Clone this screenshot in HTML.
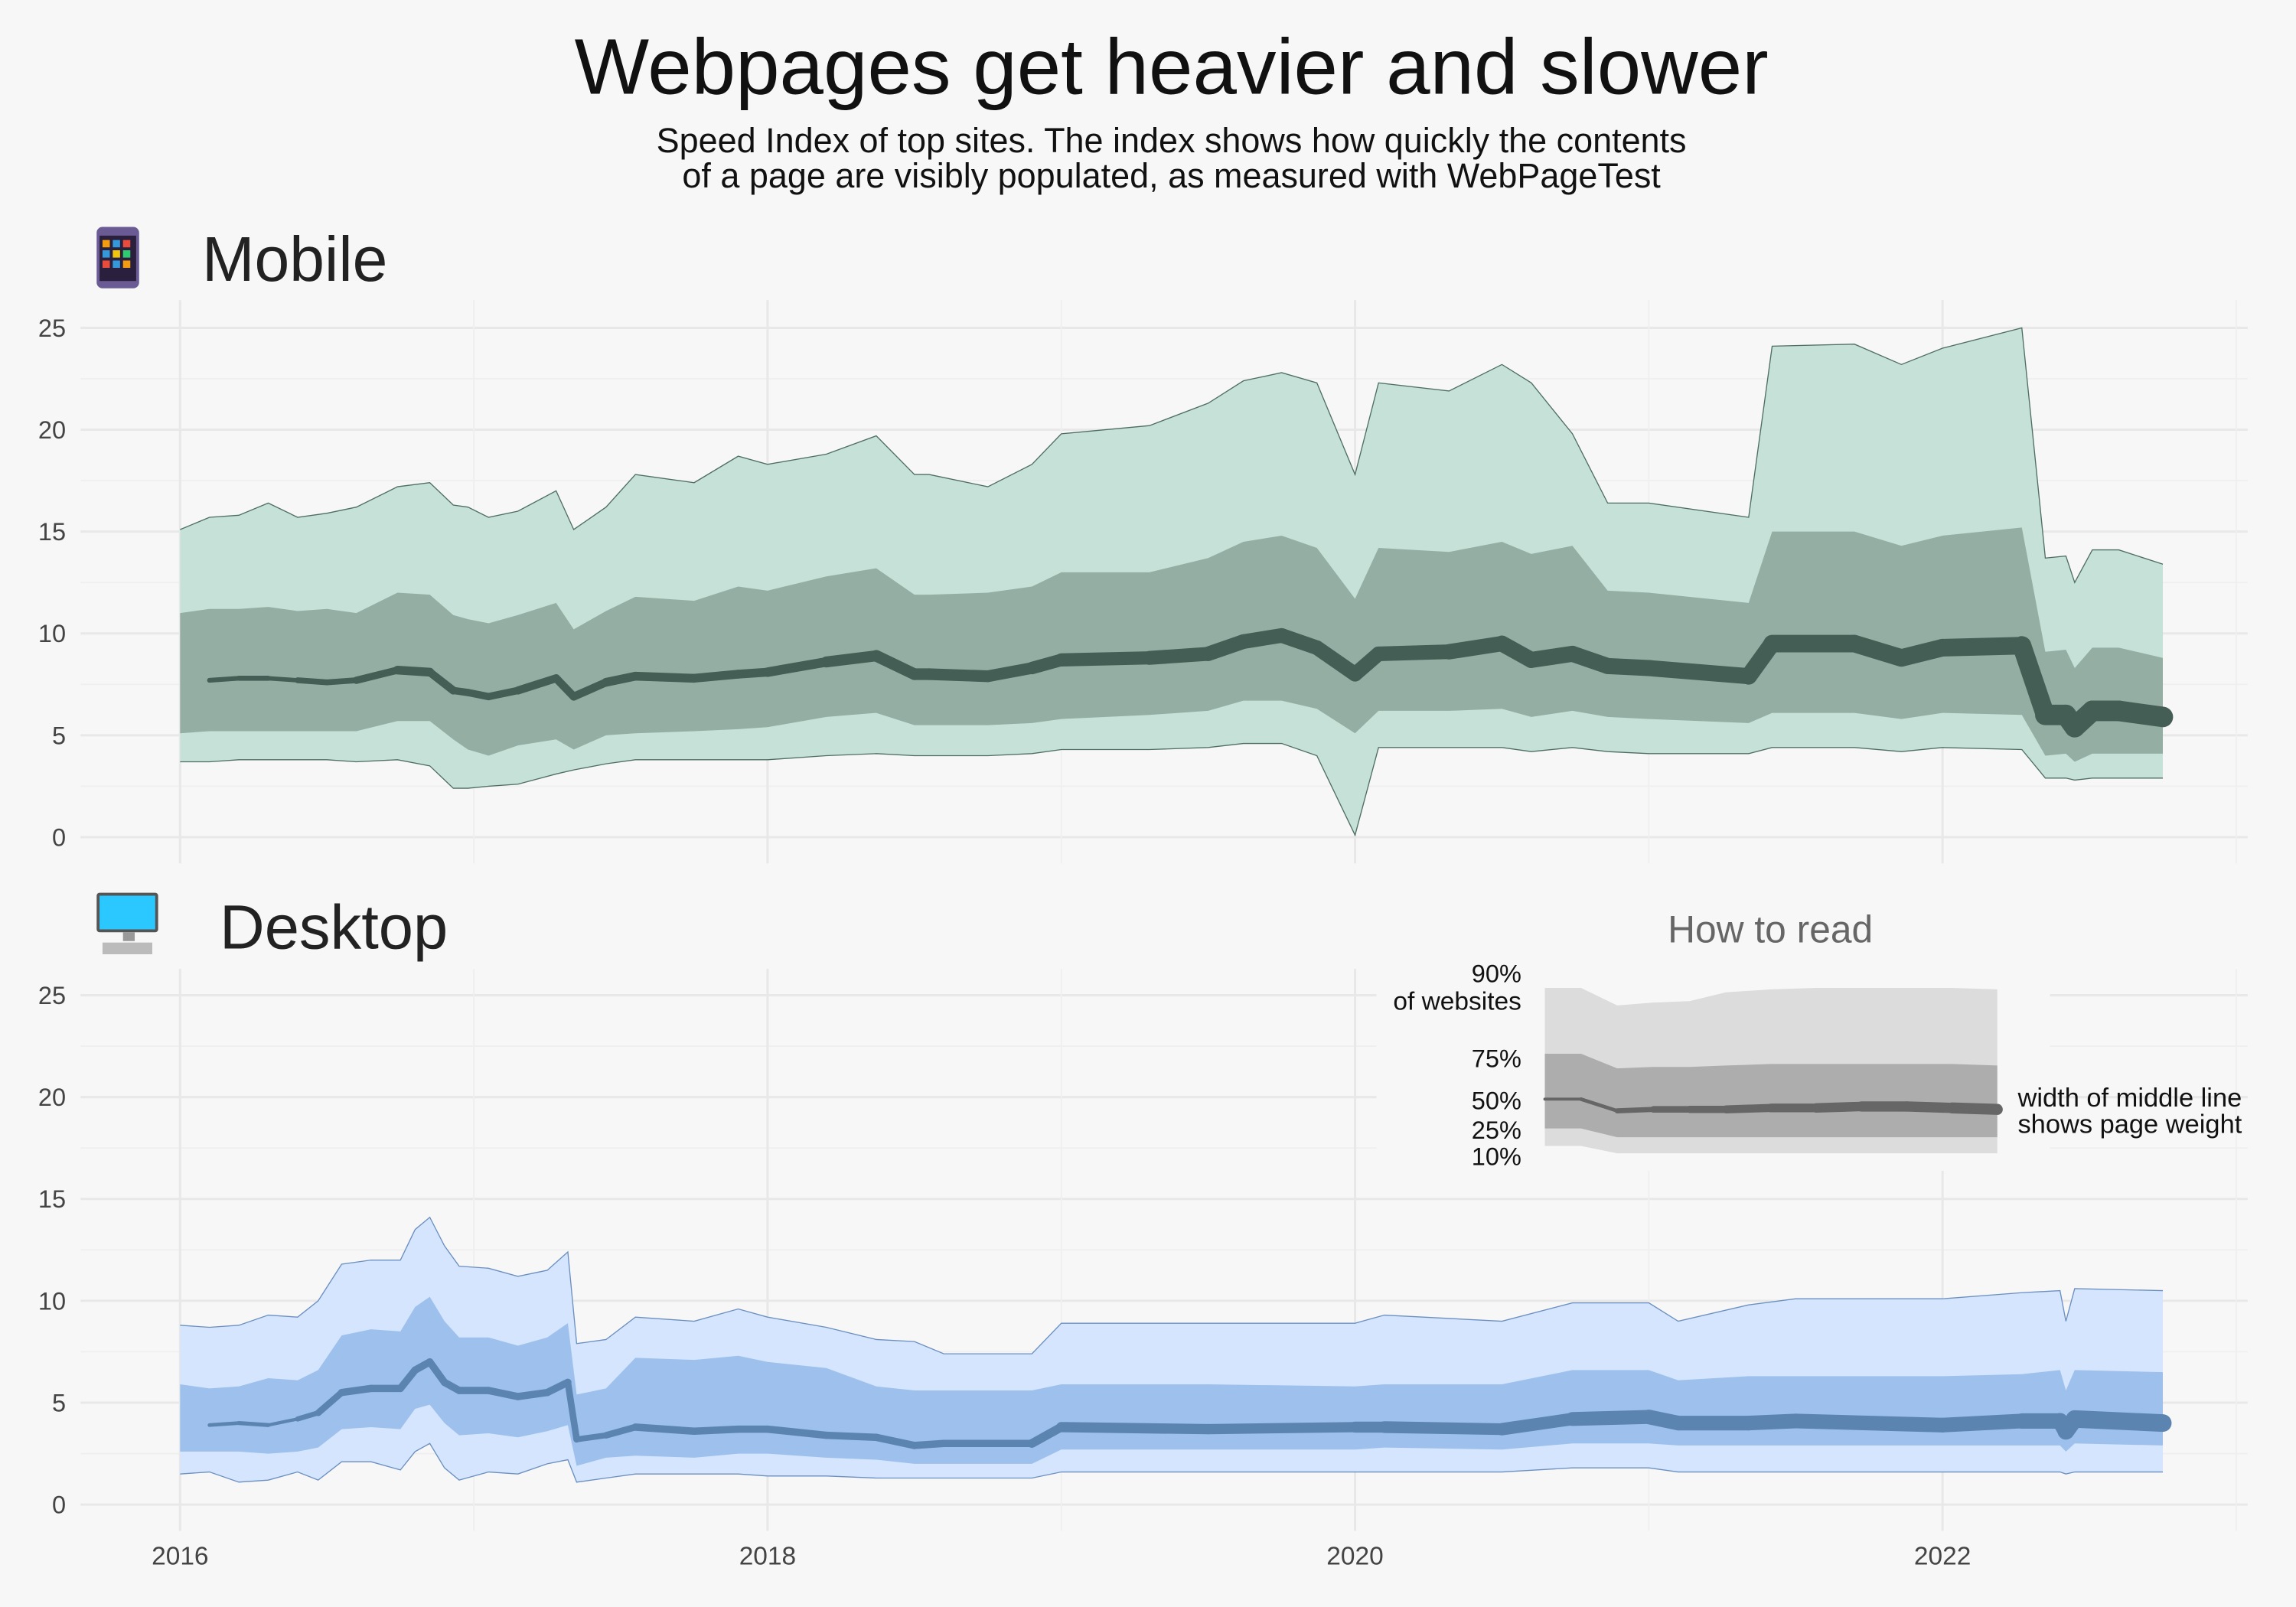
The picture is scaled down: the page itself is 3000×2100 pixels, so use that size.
<!DOCTYPE html>
<html><head><meta charset="utf-8"><style>
html,body{margin:0;padding:0;background:#f7f7f7;}
svg{display:block;font-family:"Liberation Sans",sans-serif;}
</style></head><body>
<svg id="chart" width="3000" height="2100" viewBox="0 0 1568 1098" preserveAspectRatio="none" xmlns="http://www.w3.org/2000/svg">
<rect x="0" y="0" width="1568" height="1098" fill="#f7f7f7"/>
<text x="800" y="64" text-anchor="middle" font-size="54" fill="#111">Webpages get heavier and slower</text>
<text x="800" y="104" text-anchor="middle" font-size="23.5" fill="#111">Speed Index of top sites. The index shows how quickly the contents</text>
<text x="800" y="128" text-anchor="middle" font-size="23.5" fill="#111">of a page are visibly populated, as measured with WebPageTest</text>
<g>
<rect x="66" y="155" width="29" height="42" rx="4" fill="#6b5b95"/>
<rect x="68" y="161" width="25" height="31" fill="#2a1f3d"/>
<rect x="70" y="164" width="5" height="5" fill="#f39c12"/><rect x="77" y="164" width="5" height="5" fill="#3498db"/><rect x="84" y="164" width="5" height="5" fill="#e74c3c"/>
<rect x="70" y="171" width="5" height="5" fill="#3498db"/><rect x="77" y="171" width="5" height="5" fill="#f1c40f"/><rect x="84" y="171" width="5" height="5" fill="#2ecc71"/>
<rect x="70" y="178" width="5" height="5" fill="#e74c3c"/><rect x="77" y="178" width="5" height="5" fill="#3498db"/><rect x="84" y="178" width="5" height="5" fill="#f39c12"/>
</g>
<text x="138" y="192" font-size="43" fill="#222">Mobile</text>
<g>
<rect x="66" y="610" width="42" height="27" rx="2" fill="#555"/>
<rect x="68" y="612" width="38" height="23" fill="#2bc8ff"/>
<rect x="84" y="637" width="8" height="6" fill="#999"/>
<rect x="70" y="644" width="34" height="8" fill="#bbb"/>
</g>
<text x="150" y="648" font-size="42.5" fill="#222">Desktop</text>
<g id="plots"></g>
</svg>
<script>
// ---------- Mobile data ----------
const mobileT = [2016.0,2016.1,2016.2,2016.3,2016.4,2016.5,2016.6,2016.74,2016.85,2016.93,2016.98,2017.05,2017.15,2017.28,2017.34,2017.45,2017.55,2017.75,2017.9,2018.0,2018.2,2018.37,2018.5,2018.55,2018.75,2018.9,2019.0,2019.3,2019.5,2019.62,2019.75,2019.87,2020.0,2020.08,2020.32,2020.5,2020.6,2020.74,2020.86,2021.0,2021.34,2021.42,2021.7,2021.86,2022.0,2022.27,2022.35,2022.42,2022.45,2022.51,2022.6,2022.75];
const mobileP90 = [15.1,15.7,15.8,16.4,15.7,15.9,16.2,17.2,17.4,16.3,16.2,15.7,16.0,17.0,15.1,16.2,17.8,17.4,18.7,18.3,18.8,19.7,17.8,17.8,17.2,18.3,19.8,20.2,21.3,22.4,22.8,22.3,17.8,22.3,21.9,23.2,22.3,19.8,16.4,16.4,15.7,24.1,24.2,23.2,24.0,25.0,13.7,13.8,12.5,14.1,14.1,13.4];
const mobileP75 = [11.0,11.2,11.2,11.3,11.1,11.2,11.0,12.0,11.9,10.9,10.7,10.5,10.9,11.5,10.2,11.1,11.8,11.6,12.3,12.1,12.8,13.2,11.9,11.9,12.0,12.3,13.0,13.0,13.7,14.5,14.8,14.2,11.7,14.2,14.0,14.5,13.9,14.3,12.1,12.0,11.5,15.0,15.0,14.3,14.8,15.2,9.1,9.2,8.3,9.3,9.3,8.8];
const mobileP50 = [null,7.7,7.8,7.8,7.7,7.6,7.7,8.2,8.1,7.2,7.1,6.9,7.2,7.8,6.9,7.6,7.9,7.8,8.0,8.1,8.6,8.9,8.0,8.0,7.9,8.3,8.7,8.8,9.0,9.6,9.9,9.3,8.0,9.0,9.1,9.5,8.7,9.0,8.4,8.3,7.9,9.5,9.5,8.8,9.3,9.4,6.0,6.0,5.4,6.2,6.2,5.9];
const mobileP25 = [5.1,5.2,5.2,5.2,5.2,5.2,5.2,5.7,5.7,4.8,4.3,4.0,4.5,4.8,4.3,5.0,5.1,5.2,5.3,5.4,5.9,6.1,5.5,5.5,5.5,5.6,5.8,6.0,6.2,6.7,6.7,6.3,5.1,6.2,6.2,6.3,5.9,6.2,5.9,5.8,5.6,6.1,6.1,5.8,6.1,6.0,4.0,4.1,3.7,4.1,4.1,4.1];
const mobileP10 = [3.7,3.7,3.8,3.8,3.8,3.8,3.7,3.8,3.5,2.4,2.4,2.5,2.6,3.1,3.3,3.6,3.8,3.8,3.8,3.8,4.0,4.1,4.0,4.0,4.0,4.1,4.3,4.3,4.4,4.6,4.6,4.0,0.1,4.4,4.4,4.4,4.2,4.4,4.2,4.1,4.1,4.4,4.4,4.2,4.4,4.3,2.9,2.9,2.8,2.9,2.9,2.9];
const mobileWeight = [1,1.5,5,2,4,4,4,6,6,5,5,5,5,6,5,6,6,6,6,6,7,8,8,8,8,8,9,9,10,10,10,10,10,10,10,11,11,11,11,11,11,12,12,12,12,12,14,14,14,14,14,14];

// ---------- Desktop data ----------
const desktopT = [2016.0,2016.1,2016.2,2016.3,2016.4,2016.47,2016.55,2016.65,2016.75,2016.8,2016.85,2016.9,2016.95,2017.05,2017.15,2017.25,2017.32,2017.35,2017.45,2017.55,2017.75,2017.9,2018.0,2018.2,2018.37,2018.5,2018.6,2018.9,2019.0,2019.5,2020.0,2020.1,2020.5,2020.74,2021.0,2021.1,2021.34,2021.5,2022.0,2022.27,2022.4,2022.42,2022.45,2022.75];
const desktopP90 = [8.8,8.7,8.8,9.3,9.2,10.0,11.8,12.0,12.0,13.5,14.1,12.7,11.7,11.6,11.2,11.5,12.4,7.9,8.1,9.2,9.0,9.6,9.2,8.7,8.1,8.0,7.4,7.4,8.9,8.9,8.9,9.3,9.0,9.9,9.9,9.0,9.8,10.1,10.1,10.4,10.5,9.0,10.6,10.5];
const desktopP75 = [5.9,5.7,5.8,6.2,6.1,6.6,8.3,8.6,8.5,9.7,10.2,9.0,8.2,8.2,7.8,8.2,8.9,5.4,5.7,7.2,7.1,7.3,7.0,6.7,5.8,5.6,5.6,5.6,5.9,5.9,5.8,5.9,5.9,6.6,6.6,6.1,6.3,6.3,6.3,6.4,6.6,5.6,6.6,6.5];
const desktopP50 = [null,3.9,4.0,3.9,4.2,4.5,5.5,5.7,5.7,6.6,7.0,6.0,5.6,5.6,5.3,5.5,6.0,3.2,3.4,3.8,3.6,3.7,3.7,3.4,3.3,2.9,3.0,3.0,3.8,3.7,3.8,3.8,3.7,4.2,4.3,4.0,4.0,4.1,3.9,4.1,4.1,3.6,4.2,4.0];
const desktopP25 = [2.6,2.6,2.6,2.5,2.6,2.8,3.7,3.8,3.7,4.7,4.9,4.0,3.4,3.5,3.3,3.6,3.9,1.9,2.3,2.4,2.3,2.5,2.5,2.3,2.2,2.0,2.0,2.0,2.7,2.7,2.7,2.8,2.7,3.0,3.0,2.9,2.9,2.9,2.9,2.9,2.9,2.6,3.0,2.9];
const desktopP10 = [1.5,1.6,1.1,1.2,1.6,1.2,2.1,2.1,1.7,2.6,3.0,1.8,1.2,1.6,1.5,2.0,2.2,1.1,1.3,1.5,1.5,1.5,1.4,1.4,1.3,1.3,1.3,1.3,1.6,1.6,1.6,1.6,1.6,1.8,1.8,1.6,1.6,1.6,1.6,1.6,1.6,1.5,1.6,1.6];
const desktopWeight = [1,1,4,1.5,3,4,5,5,5,5,5,5,5,5,5,5,5,4,4,5,5,5,5,5,5,5,5,5,7,7,7,8,8,9,10,10,10,10,10,10,11,11,12,12];

const yTicks = [0,5,10,15,20,25];
const xTickLabels = ["2016","2018","2020","2022"];
const xTickYears = [2016,2018,2020,2022];

const NS = "http://www.w3.org/2000/svg";
const root = document.getElementById('plots');
function xs(t){ return 123 + (t-2016)*200.6; }
function mk(tag, attrs, parent){
  const e = document.createElementNS(NS, tag);
  for (const k in attrs) e.setAttribute(k, attrs[k]);
  (parent||root).appendChild(e);
  return e;
}

function panel(name, base, top, T, p90, p75, p50, p25, p10, w, cOuter, cMid, cLine, cEdge){
  const ys = v => base - v*13.92;
  const g = mk('g', {});
  
  
  for (let v=2.5; v<=25; v+=5){
    const l = mk('line', {x1:55,x2:1535,y1:ys(v),y2:ys(v),stroke:'#efefef','stroke-width':1}, g);
    
    
  }
  yTicks.forEach(v=>{
    const l = mk('line', {x1:55,x2:1535,y1:ys(v),y2:ys(v),stroke:'#e8e8e8','stroke-width':1.6}, g);
    
    
    const t = mk('text', {x:45,y:ys(v)+6,'text-anchor':'end','font-size':17,fill:'#444'}, g);
    t.textContent = v;
    
    
  });
  for (let yr=2016; yr<=2023; yr++){
    const l = mk('line', {x1:xs(yr),x2:xs(yr),y1:top,y2:base+18,stroke:yr%2===0?'#e8e8e8':'#efefef','stroke-width':yr%2===0?1.6:1}, g);
    
    
  }
  function band(up, lo, fill, nm){
    let d = '';
    for (let i=0;i<T.length;i++) d += (i?'L':'M') + xs(T[i]) + ',' + ys(up[i]);
    for (let i=T.length-1;i>=0;i--) d += 'L' + xs(T[i]) + ',' + ys(lo[i]);
    const p = mk('path', {d:d+'Z', fill:fill}, g);
    
    
  }
  band(p90, p10, cOuter, name + '-band-10-90');
  band(p75, p25, cMid, name + '-band-25-75');
  [[p90,'p90'],[p10,'p10']].forEach(([arr,nm])=>{
    let d=''; arr.forEach((v,i)=>{ d += (i?'L':'M') + xs(T[i]) + ',' + ys(v); });
    const p = mk('path', {d:d, fill:'none', stroke:cEdge, 'stroke-width':0.7}, g);
    
    
  });
  for (let i=0;i<T.length-1;i++){
    if (p50[i]===null || p50[i+1]===null) continue;
    const s = mk('line', {x1:xs(T[i]),y1:ys(p50[i]),x2:xs(T[i+1]),y2:ys(p50[i+1]),stroke:cLine,'stroke-width':(w[i]+w[i+1])/2,'stroke-linecap':'round'}, g);
    
    
  }
}

panel('mobile', 572, 205, mobileT, mobileP90, mobileP75, mobileP50, mobileP25, mobileP10, mobileWeight, '#c6e1d8', '#94aea4', '#445e55', '#4f6e63');
panel('desktop', 1028, 662, desktopT, desktopP90, desktopP75, desktopP50, desktopP25, desktopP10, desktopWeight, '#d4e5fd', '#9dc0ec', '#5b84b1', '#6b8fc0');

xTickYears.forEach((yr,i)=>{
  const t = mk('text', {x:xs(yr), y:1069, 'text-anchor':'middle','font-size':17.5, fill:'#444'});
  t.textContent = xTickLabels[i];
  
  
});

// ---------- How to read legend ----------
const lg = mk('g', {});


const lgBg = mk('rect', {x:940,y:615,width:460,height:185,fill:'#f7f7f7'}, lg);


const legT = [0,0.08,0.16,0.24,0.32,0.4,0.5,0.6,0.7,0.8,0.9,1.0];
const legP90 = [675,675,687,685,684,678,676,675,675,675,675,676];
const legP75 = [720,720,730,729,729,728,727,727,727,727,727,728];
const legP50 = [751,751,759,758,758,758,757,757,756,756,757,758];
const legP25 = [771,771,777,777,777,777,777,777,777,777,777,777];
const legP10 = [783,783,788,788,788,788,788,788,788,788,788,788];
const legW = [2,2,3,4,5,5,6,6,7,7,7,8];
const lx = t => 1055 + t*309;
function lband(up, lo, fill, nm){
  let d='';
  legT.forEach((t,i)=>{ d += (i?'L':'M') + lx(t) + ',' + up[i]; });
  for (let i=legT.length-1;i>=0;i--) d += 'L' + lx(legT[i]) + ',' + lo[i];
  const p = mk('path', {d:d+'Z', fill:fill}, lg);
  
  
}
lband(legP90, legP10, '#dcdcdc', 'legend-band-outer');
lband(legP75, legP25, '#adadad', 'legend-band-inner');
for (let i=0;i<legT.length-1;i++){
  const s = mk('line', {x1:lx(legT[i]),y1:legP50[i],x2:lx(legT[i+1]),y2:legP50[i+1],stroke:'#666','stroke-width':(legW[i]+legW[i+1])/2,'stroke-linecap':'round'}, lg);
  
  
}
const legLabels = [["How to read",1209,644,26,'middle','#666'],["90%",1039,671,17,'end','#111'],["of websites",1039,690,17.5,'end','#111'],["75%",1039,729,17,'end','#111'],["50%",1039,758,17,'end','#111'],["25%",1039,778,17,'end','#111'],["10%",1039,796,17,'end','#111'],["width of middle line",1378,756,18,'start','#111'],["shows page weight",1378,774,18,'start','#111']];
legLabels.forEach(([txt,x,y,fs,anc,col])=>{
  const t = mk('text', {x:x,y:y,'font-size':fs,'text-anchor':anc,fill:col}, lg);
  t.textContent = txt;
  
  
});
</script>
</body></html>
